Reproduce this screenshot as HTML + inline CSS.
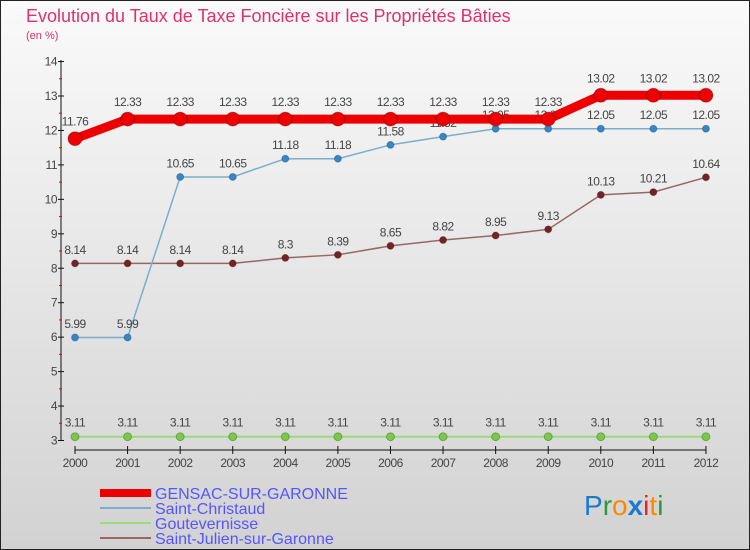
<!DOCTYPE html>
<html><head><meta charset="utf-8"><style>
body{margin:0;padding:0}
#wrap{width:750px;height:550px;position:relative;overflow:hidden;background:linear-gradient(#fafafa,#d2d2d2);font-family:"Liberation Sans",sans-serif}
svg text{font-family:"Liberation Sans",sans-serif}
</style></head><body>
<div id="wrap">
<svg id="svg" width="750" height="550">
<rect x="0.5" y="0.5" width="749" height="549" fill="none" stroke="#222"/>
<text x="26" y="22" font-size="18" fill="#e0306e">Evolution du Taux de Taxe Foncière sur les Propriétés Bâties</text>
<text x="26" y="39" font-size="11" fill="#e0306e">(en %)</text>
<g id="axes"></g><g id="series"></g>
<g>
<rect x="100" y="489" width="51" height="8" fill="#ee0000"/>
<text x="155" y="499" font-size="16" fill="#5555ff">GENSAC-SUR-GARONNE</text>
<rect x="100" y="507" width="51" height="2" fill="#7aaed0"/>
<text x="155" y="514" font-size="16" fill="#5555ff">Saint-Christaud</text>
<rect x="100" y="522" width="51" height="2" fill="#99dd77"/>
<text x="155" y="529" font-size="16" fill="#5555ff">Goutevernisse</text>
<rect x="100" y="537" width="51" height="2" fill="#996666"/>
<text x="155" y="544" font-size="16" fill="#5555ff">Saint-Julien-sur-Garonne</text>
</g>
<g font-size="28">
<text x="584" y="515"><tspan fill="#1a7ad0">P</tspan><tspan fill="#2a9a3a">r</tspan><tspan fill="#ff8800">o</tspan><tspan fill="#1a7ad0" font-weight="bold">x</tspan><tspan fill="#ee2222">i</tspan><tspan fill="#ff8800">t</tspan><tspan fill="#2a9a3a">i</tspan></text>
</g>
</svg></div>
<script>
const years=["2000","2001","2002","2003","2004","2005","2006","2007","2008","2009","2010","2011","2012"];
const gensac=[11.76,12.33,12.33,12.33,12.33,12.33,12.33,12.33,12.33,12.33,13.02,13.02,13.02];
const christaud=[5.99,5.99,10.65,10.65,11.18,11.18,11.58,11.82,12.05,12.05,12.05,12.05,12.05];
const goute=[3.11,3.11,3.11,3.11,3.11,3.11,3.11,3.11,3.11,3.11,3.11,3.11,3.11];
const julien=[8.14,8.14,8.14,8.14,8.3,8.39,8.65,8.82,8.95,9.13,10.13,10.21,10.64];
const yTicks=[3,4,5,6,7,8,9,10,11,12,13,14];
const NS="http://www.w3.org/2000/svg";
function X(i){return 75+i*52.58;}
function Y(v){return 440.5-(v-3)*34.45;}
function mk(tag,at,parent){const e=document.createElementNS(NS,tag);for(const k in at)e.setAttribute(k,at[k]);parent.appendChild(e);return e;}
const ax=document.getElementById('axes');
let l=mk('line',{x1:61,y1:60,x2:61,y2:441,stroke:'#111'},ax);

l=mk('line',{x1:75,y1:450,x2:706,y2:450,stroke:'#111'},ax);

yTicks.forEach(v=>{
 mk('line',{x1:58,x2:64,y1:Y(v),y2:Y(v),stroke:'#111'},ax);
 if(v<14)mk('line',{x1:59,x2:62,y1:Y(v+0.5),y2:Y(v+0.5),stroke:'#e00'},ax);
 const t=mk('text',{x:57,y:Y(v)+4,'font-size':12,'text-anchor':'end',fill:'#444','letter-spacing':'-0.5'},ax);t.textContent=v;
 
});
years.forEach((y,i)=>{
 mk('line',{x1:X(i),x2:X(i),y1:446,y2:454,stroke:'#111'},ax);
 const t=mk('text',{x:X(i),y:467,'font-size':12,'text-anchor':'middle',fill:'#444','letter-spacing':'-0.5'},ax);t.textContent=y;
 
});
const sg=document.getElementById('series');
function series(name,data,color,w,r,fill){
 const g=mk('g',{},sg);
 
 const p=mk('polyline',{points:data.map((v,i)=>X(i)+','+Y(v)).join(' '),fill:'none',stroke:color,'stroke-width':w},g);
 
 data.forEach((v,i)=>{
  const c=mk('circle',{cx:X(i),cy:Y(v),r:r,fill:fill,stroke:'rgba(0,0,0,0.25)'},g);
  
  const t=mk('text',{x:X(i),y:Y(v)-(r+6),'font-size':12,'text-anchor':'middle',fill:'#444','letter-spacing':'-0.5'},g);
  t.textContent=v;
  
 });
}
series('goutevernisse',goute,'#99dd77',2,4,'#77cc44');
series('saint-julien',julien,'#996666',1.5,3.5,'#772222');
series('saint-christaud',christaud,'#7aaed0',1.5,3.5,'#3388cc');
series('gensac',gensac,'#ee0000',9,7,'#ee0000');
</script>
</body></html>
